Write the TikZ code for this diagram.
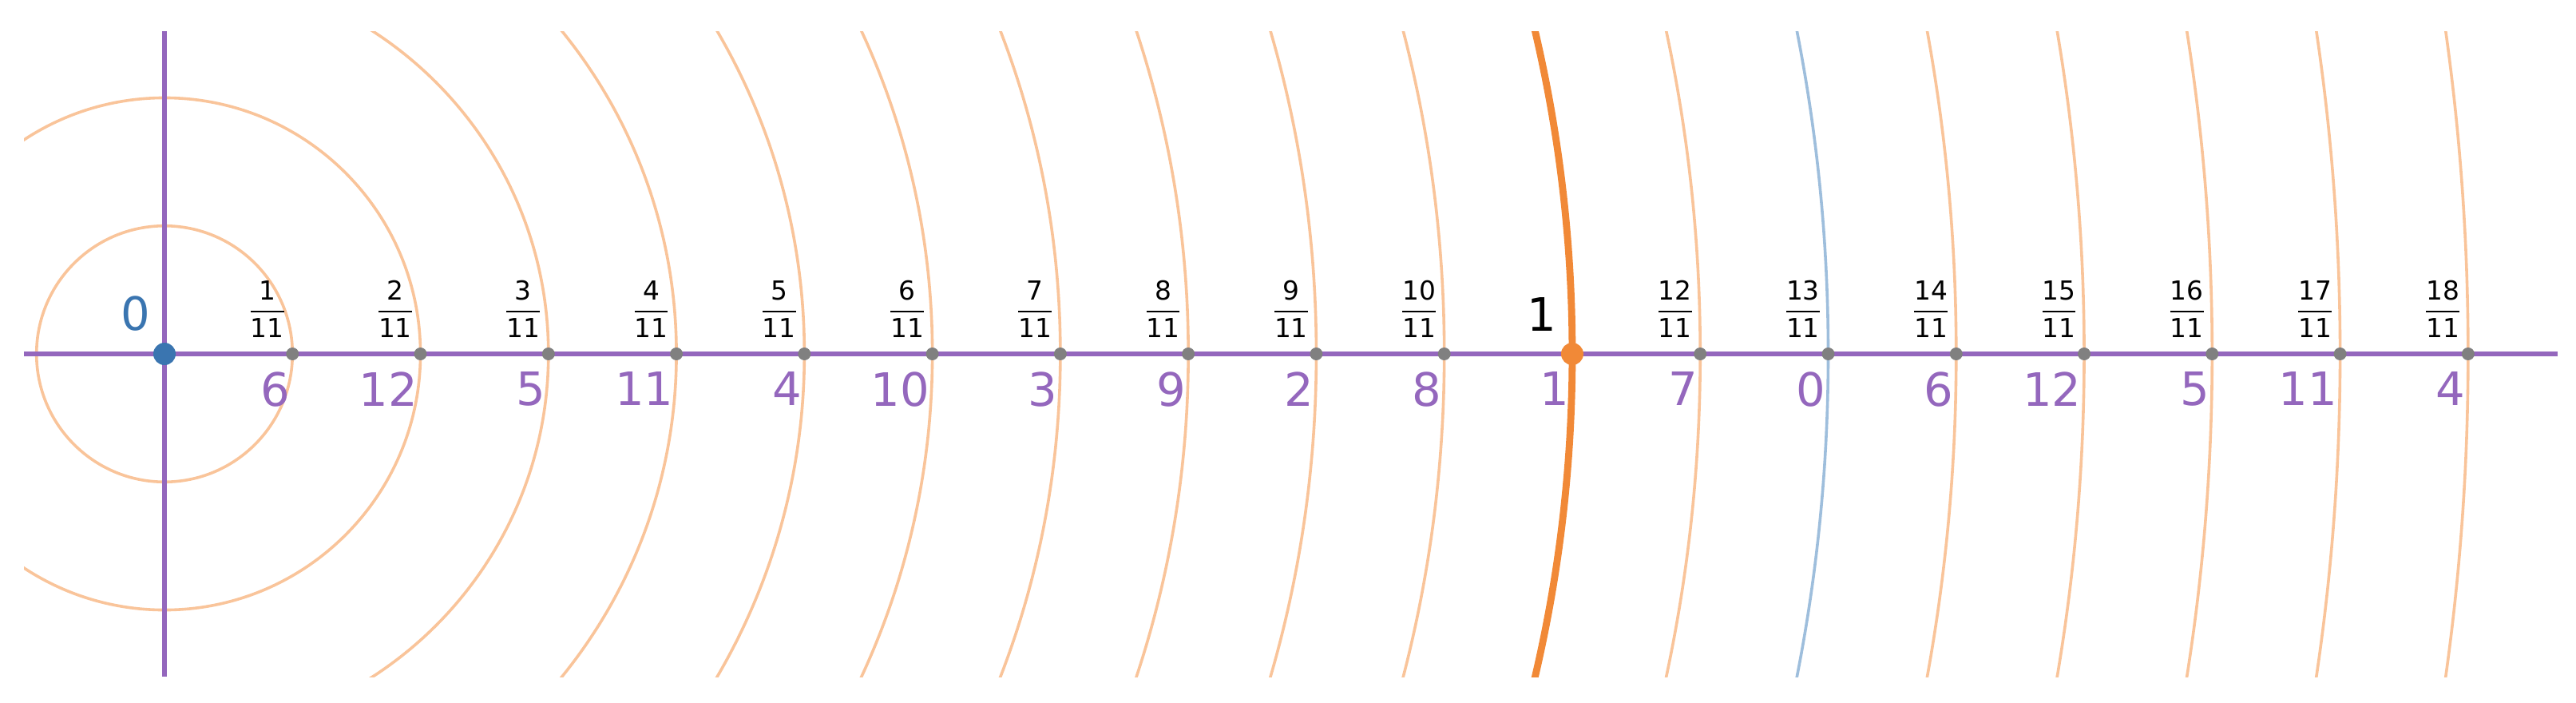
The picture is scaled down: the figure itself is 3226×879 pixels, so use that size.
\documentclass[tikz,border=0pt]{standalone}
\usepackage{fontspec}
\setmainfont{DejaVu Sans}
\usetikzlibrary{positioning}

\definecolor{axpurple}{RGB}{148,103,189}
\definecolor{dotblue}{RGB}{58,117,176}
\definecolor{dotorange}{RGB}{241,137,55}
\definecolor{ringorange}{RGB}{249,196,154}
\definecolor{ringblue}{RGB}{158,190,220}
\definecolor{dotgray}{RGB}{128,128,128}

\nulldelimiterspace=0pt
\newcommand{\frk}[2]{$\displaystyle{\mbox{#1}\above 0.6pt\mbox{#2}}$}

\tikzset{every picture/.style={line width=0.75pt},
  ring/.style={draw=ringorange, line width=0.9pt},
  ringone/.style={draw=dotorange, line width=2.2pt},
  ringzero/.style={draw=ringblue, line width=0.9pt},
  axis/.style={draw=axpurple, line width=1.5pt},
  dot/.style={circle, fill=dotgray, inner sep=0pt, minimum size=4pt},
  bigdot/.style={circle, inner sep=0pt, minimum size=7pt},
  numlbl/.style={inner sep=0pt, font=\fontsize{14.4}{17}\selectfont},
  fraclbl/.style={inner sep=0pt, font=\fontsize{8.2}{9.8}\selectfont}}

\begin{document}
\begin{tikzpicture}[x=0.25pt,y=0.25pt,yscale=-1,xscale=1]
\useasboundingbox (0,0) rectangle (3226,879);

% Rings
\begin{scope}
\clip (30,39) rectangle (3203,847);
\foreach \k in {1,...,18}{
  \ifnum\k=11
    \draw[ringone] (206,443) circle ({\k*160.27});
  \else\ifnum\k=13
    \draw[ringzero] (206,443) circle ({\k*160.27});
  \else
    \draw[ring] (206,443) circle ({\k*160.27});
  \fi\fi
}
\end{scope}

% Axes
\coordinate (west) at (30,443);
\coordinate (east) at (3203,443);
\coordinate (north) at (206,39);
\coordinate (south) at (206,847);
\draw[axis] (west) -- (east);
\draw[axis] (north) -- (south);

% Points
\node[bigdot, fill=dotblue] (p0) at (206,443) {};
\node[numlbl, text=dotblue, above left=6.75pt and 4pt of p0.center] (f0) {0};
\foreach \k in {1,...,18}{
  \pgfmathtruncatemacro\m{mod(6*\k,13)}
  \ifnum\k=11
    \node[bigdot, fill=dotorange] (p\k) at ({206+\k*160.27},443) {};
    \node[numlbl, above left=6.75pt and 4.5pt of p\k.center] (f\k) {1};
  \else
    \node[dot] (p\k) at ({206+\k*160.27},443) {};
    \node[fraclbl, above left=4.75pt and 2.3pt of p\k.center] (f\k) {\frk{\k}{11}};
  \fi
  \node[numlbl, text=axpurple, below left=5.25pt and 0.5pt of p\k.center] (r\k) {\m};
}

\end{tikzpicture}
\end{document}
